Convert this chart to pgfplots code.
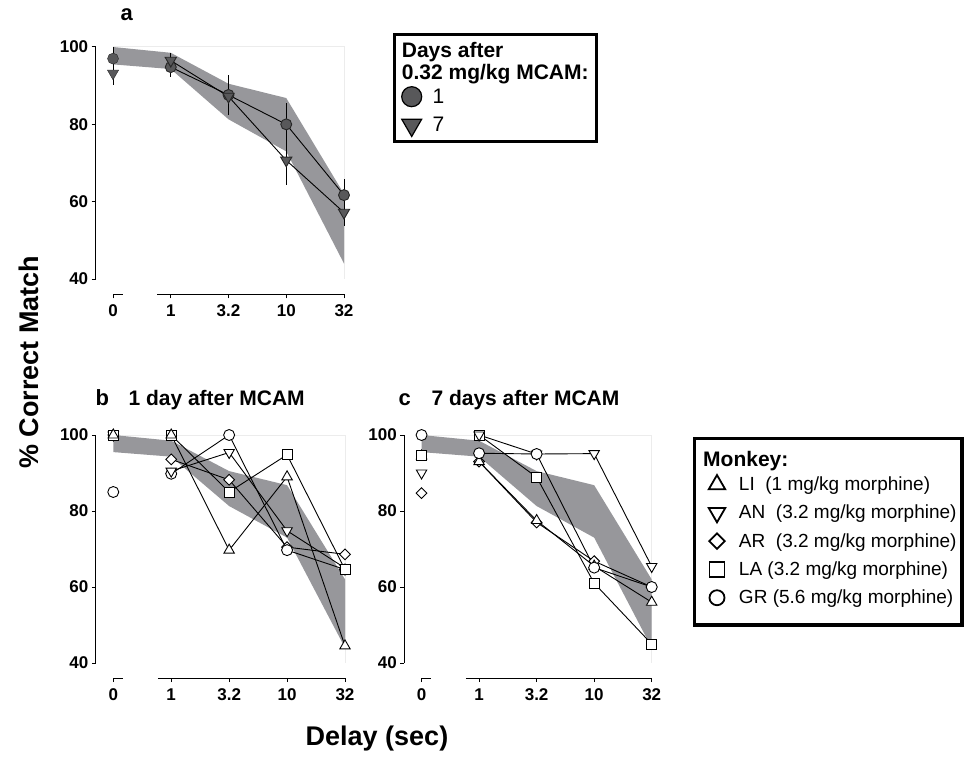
\documentclass[border=0pt]{standalone}
\usepackage{fontspec}
\setmainfont{Liberation Sans}
\usepackage{pgfplots}
\pgfplotsset{compat=1.18}

\definecolor{band}{RGB}{151,151,155}
\definecolor{dotgray}{RGB}{88,88,90}
\definecolor{framegray}{RGB}{236,236,236}

\pgfplotsset{
  panel/.style={
    scale only axis, clip=false,
    xmin=-0.3, xmax=4, ymin=36, ymax=100,
    axis x line*=bottom, axis y line*=left,
    axis line style={draw=none},
    xtick={0,1,2,3,4}, xticklabels={0,1,3.2,10,32},
    ytick={40,60,80,100},
    tick align=outside, major tick length=4pt,
    tick style={black, line width=1pt},
    tick label style={font=\fontsize{17}{20}\selectfont\bfseries},
    xticklabel style={yshift=-3pt},
    /pgf/number format/assume math mode=true,
    unbounded coords=jump,
  },
  band/.style={fill=band, draw=none, forget plot},
  mk/.style={black, line width=0.9pt, forget plot,
    mark options={fill=white, solid, line width=0.9pt}},
  LI/.style={mk, mark=triangle*, mark size=6pt},
  AN/.style={mk, mark=triangle*, mark size=6pt, every mark/.append style={rotate=180}},
  AR/.style={mk, mark=square*, mark size=3.8pt, every mark/.append style={rotate=45}},
  LA/.style={mk, mark=square*, mark size=5pt},
  GR/.style={mk, mark=*, mark size=5.5pt},
  legmark/.style={legend image code/.code={
      \path[draw=none, fill=none] (-10pt,-10pt) rectangle (10pt,10pt);
      \draw[##1] plot coordinates {(0pt,0pt)};}},
  leg/.style={legend style={draw=none, fill=none, inner sep=0pt, outer sep=0pt,
      column sep=11pt, row sep=8.3pt, nodes={inner sep=0pt}},
      legend cell align=left},
  ebar/.style={error bars/.cd, y dir=both, y explicit, error mark=none,
      error bar style={line width=0.9pt, black}},
}

\newcommand{\axisdeco}{%
  \draw[framegray, line width=1pt] (axis cs:0,100) -- (axis cs:4,100) -- (axis cs:4,40);
  \draw[black, line width=1pt] (axis cs:-0.3,40) -- (axis cs:-0.3,100);
  \draw[black, line width=1pt] (axis cs:0,36) -- (axis cs:0.17,36);
  \draw[black, line width=1pt] (axis cs:0.77,36) -- (axis cs:4,36);
}

\begin{document}
\begin{tikzpicture}
\path[use as bounding box] (0pt,0pt) rectangle (964pt,756pt);

% ---- panel a
\begin{axis}[panel, leg, at={(95.7pt,461.5pt)}, anchor=south west,
    width=248.3pt, height=247.5pt,
    legend style={at={(1.2324,0.8396)}, anchor=north west,
      font=\fontsize{21}{24}\selectfont}]
\axisdeco
\addplot[band] coordinates {(0,100)(1,98.5)(2,90.5)(3,86.8)(4,62)
                            (4,44)(3,73)(2,81.3)(1,94.3)(0,95.5)};
% 1 day
\addplot[black, line width=0.9pt, forget plot, mark=*, mark size=5.5pt,
    mark options={fill=dotgray, draw=black!85}, ebar]
  coordinates {(1,94.8)+-(0,2.5) (2,87.6)+-(0,5.2) (3,80)+-(0,5.4) (4,61.7)+-(0,4.2)};
\addplot[black, only marks, forget plot, mark=*, mark size=5.5pt,
    mark options={fill=dotgray, draw=black!85}, ebar]
  coordinates {(0,97)+-(0,3)};
% 7 days
\addplot[black, line width=0.9pt, forget plot, mark=triangle*, mark size=6.5pt,
    mark options={fill=dotgray, draw=black!85, rotate=180}, ebar]
  coordinates {(1,96.5)+-(0,2) (2,87.2)+-(0,4.4) (3,70.7)+-(0,6.5) (4,57.2)+-(0,3.4)};
\addplot[black, only marks, forget plot, mark=triangle*, mark size=6.5pt,
    mark options={fill=dotgray, draw=black!85, rotate=180}, ebar]
  coordinates {(0,93.2)+-(0,3)};
\addlegendimage{legmark, black, mark=*, mark size=10pt,
    mark options={fill=dotgray, line width=1.2pt}}
\addlegendentry{1}
\addlegendimage{legmark, black, mark=triangle*, mark size=11.5pt,
    mark options={fill=dotgray, line width=1.2pt, rotate=180}}
\addlegendentry{7}
\end{axis}

% ---- panel b
\begin{axis}[panel, at={(95.9pt,77.8pt)}, anchor=south west,
    width=249.1pt, height=243.2pt]
\axisdeco
\addplot[band] coordinates {(0,100)(1,98.5)(2,90.5)(3,86.8)(4,62)
                            (4,44)(3,73)(2,81.3)(1,94.3)(0,95.5)};
\addplot[AR] coordinates {(0,100)(0.5,nan)(1,93.6)(2,88.2)(3,70.5)(4,68.6)};
\addplot[GR] coordinates {(0,85)(0.5,nan)(1,89.8)(2,100)(3,69.7)(4,64.6)};
\addplot[AN] coordinates {(0,100)(0.5,nan)(1,90.5)(2,95.4)(3,74.8)(4,65)};
\addplot[LA] coordinates {(0,100)(0.5,nan)(1,100)(2,85)(3,94.8)(4,64.6)};
\addplot[LI] coordinates {(0,100)(0.5,nan)(1,100)(2,69.7)(3,89)(4,44.5)};
\end{axis}

% ---- panel c
\begin{axis}[panel, leg, at={(404.3pt,77.8pt)}, anchor=south west,
    width=247.4pt, height=243.2pt,
    legend style={at={(1.2235,0.8375)}, anchor=north west,
      column sep=12pt, font=\fontsize{19}{22}\selectfont}]
\axisdeco
\addplot[band] coordinates {(0,100)(1,98.5)(2,90.5)(3,86.8)(4,62)
                            (4,44)(3,73)(2,81.3)(1,94.3)(0,95.5)};
\addplot[AR] coordinates {(0,84.7)(0.5,nan)(1,93)(2,77)(3,66.8)(4,60)};
\addplot[LI] coordinates {(0,94.5)(0.5,nan)(1,93)(2,77.5)(3,65.5)(4,56)};
\addplot[LA] coordinates {(0,94.7)(0.5,nan)(1,100)(2,88.9)(3,61)(4,45)};
\addplot[AN] coordinates {(0,90)(0.5,nan)(1,100)(2,95)(3,95.1)(4,65.4)};
\addplot[GR] coordinates {(0,100)(0.5,nan)(1,95.2)(2,95)(3,65.1)(4,60)};
\addlegendimage{legmark, black, mark=triangle, mark size=9.5pt, mark options={line width=1.8pt}}
\addlegendentry{LI~~(1 mg/kg morphine)}
\addlegendimage{legmark, black, mark=triangle, mark size=9.5pt, mark options={line width=1.8pt, rotate=180}}
\addlegendentry{AN~~(3.2 mg/kg morphine)}
\addlegendimage{legmark, black, mark=square, mark size=5.5pt, mark options={line width=1.8pt, rotate=45}}
\addlegendentry{AR~~(3.2 mg/kg morphine)}
\addlegendimage{legmark, black, mark=square, mark size=7.5pt, mark options={line width=1.8pt}}
\addlegendentry{LA (3.2 mg/kg morphine)}
\addlegendimage{legmark, black, mark=o, mark size=7.5pt, mark options={line width=1.8pt}}
\addlegendentry{GR (5.6 mg/kg morphine)}
\end{axis}

% ---- texts and legend frames
\node[anchor=base west, font=\fontsize{22}{24}\selectfont\bfseries] at (117pt,735pt) {a};
\node[anchor=base west, font=\fontsize{22}{24}\selectfont\bfseries] at (92pt,350pt) {b};
\node[anchor=base west, font=\fontsize{21}{24}\selectfont\bfseries] at (125pt,350pt) {1 day after MCAM};
\node[anchor=base west, font=\fontsize{22}{24}\selectfont\bfseries] at (395pt,350pt) {c};
\node[anchor=base west, font=\fontsize{21}{24}\selectfont\bfseries] at (428pt,350pt) {7 days after MCAM};

\node[rotate=90, anchor=base, font=\fontsize{27}{30}\selectfont\bfseries] at (38pt,394pt) {\% Correct Match};
\node[anchor=base, font=\fontsize{27}{30}\selectfont\bfseries] at (377pt,11pt) {Delay (sec)};

\draw[line width=3.5pt] (394.5pt,614.5pt) rectangle (596.5pt,721.5pt);
\node[anchor=base west, inner sep=0pt, font=\fontsize{21}{24}\selectfont\bfseries] at (401.7pt,698pt) {Days after};
\node[anchor=base west, inner sep=0pt, font=\fontsize{21}{24}\selectfont\bfseries] at (401.7pt,676pt) {0.32 mg/kg MCAM:};

\draw[line width=3.5pt] (694.5pt,131pt) rectangle (962pt,317.5pt);
\node[anchor=base west, inner sep=0pt, font=\fontsize{21}{24}\selectfont\bfseries] at (703pt,289.3pt) {Monkey:};
\end{tikzpicture}
\end{document}
